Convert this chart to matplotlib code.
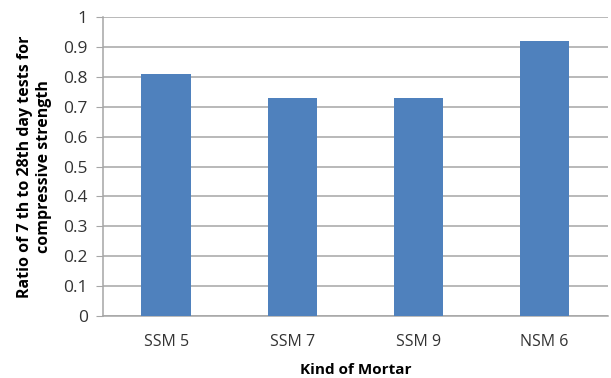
import matplotlib
matplotlib.use("Agg")
import matplotlib.pyplot as plt

categories = ["SSM 5", "SSM 7", "SSM 9", "NSM 6"]
ratios = [0.81, 0.73, 0.73, 0.92]
yticks = [0, 0.1, 0.2, 0.3, 0.4, 0.5, 0.6, 0.7, 0.8, 0.9, 1]
ytick_labels = ["0", "0.1", "0.2", "0.3", "0.4", "0.5", "0.6", "0.7", "0.8", "0.9", "1"]

plt.rcParams["font.family"] = ["Open Sans", "DejaVu Sans"]
grid_color = "#a6a6a6"

fig = plt.figure(figsize=(6.11, 3.78), dpi=100)
ax = fig.add_axes([0.1686, 0.164, 0.826, 0.791])

x = list(range(len(categories)))
ax.bar(x, ratios, width=0.39, color="#4f81bd", zorder=3)

ax.set_xlim(-0.5, len(categories) - 0.5)
ax.set_ylim(0, 1)
ax.set_yticks(yticks)
ax.set_yticklabels(ytick_labels, fontsize=12.5, color="#333333")
ax.set_xticks(x)
ax.set_xticklabels(categories, fontsize=11.5, color="#333333")
ax.tick_params(axis="y", length=5, color=grid_color, pad=6)
ax.tick_params(axis="x", length=0, pad=13)
ax.yaxis.grid(True, color=grid_color, linewidth=1.1, zorder=0)

for side in ("top", "right"):
    ax.spines[side].set_visible(False)
for side in ("left", "bottom"):
    ax.spines[side].set_color(grid_color)
    ax.spines[side].set_linewidth(1.1)

ax.set_xlabel("Kind of Mortar", fontsize=11, fontweight="bold", labelpad=9)
ax.set_ylabel("Ratio of 7 th to 28th day tests for\ncompressive strength",
              fontsize=11.5, fontweight="bold", labelpad=8, linespacing=1.25)

fig.savefig("out.png", dpi=100)
